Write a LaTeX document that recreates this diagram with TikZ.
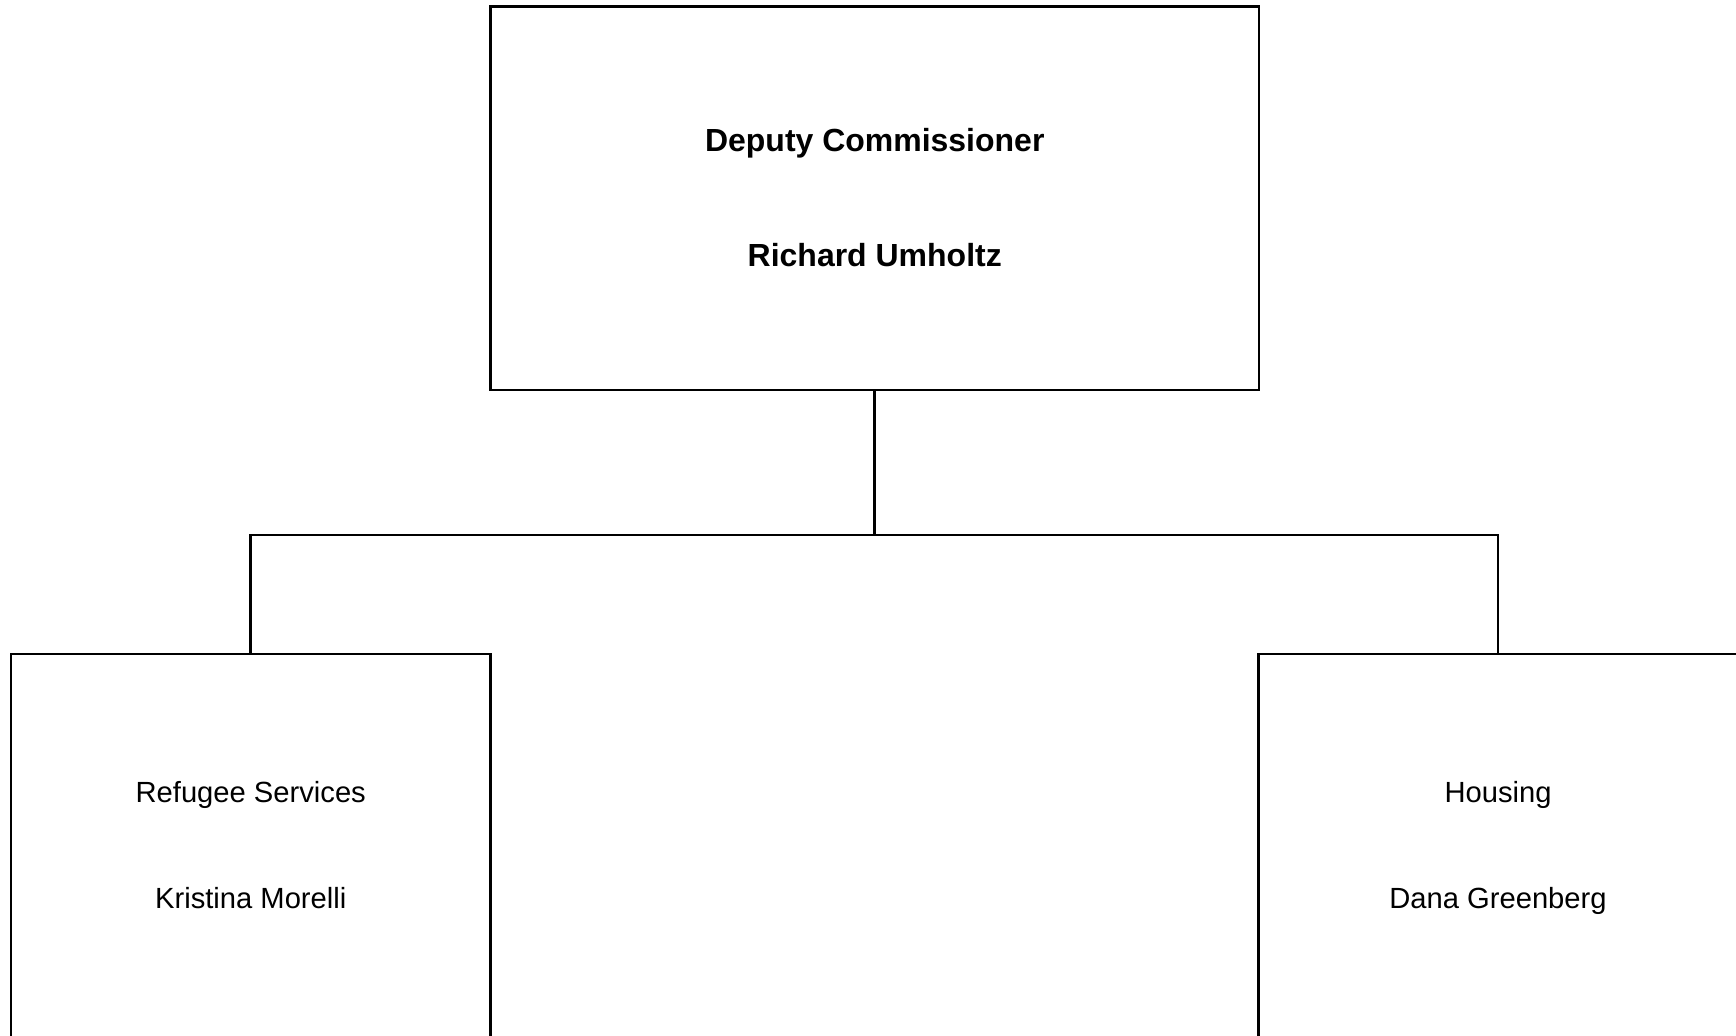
\documentclass[tikz,border=0pt]{standalone}
\usepackage{fontspec}
\setmainfont{Liberation Sans}
\begin{document}
\begin{tikzpicture}[box/.style={draw, line width=0.75pt, inner sep=0pt, outer sep=0pt},
  head/.style={font=\fontsize{9.1}{11}\selectfont\bfseries, anchor=base},
  unit/.style={font=\fontsize{8.3}{10}\selectfont, anchor=base}]
\useasboundingbox (0,0) rectangle (17.36,10.35);

\node[box, minimum width=7.685cm, minimum height=3.834cm] (1) at (8.7475,8.367) {};
\node[box, minimum width=4.795cm, minimum height=3.9cm] (2) at (2.5075,1.86) {};
\node[box, minimum width=4.795cm, minimum height=3.9cm] (3) at (14.98,1.86) {};

\node[head] (1a) at (8.7475,8.84) {Deputy Commissioner};
\node[head] (1b) at (8.7475,7.69) {Richard Umholtz};
\node[unit] (2a) at (2.5075,2.325) {Refugee Services};
\node[unit] (2b) at (2.5075,1.265) {Kristina Morelli};
\node[unit] (3a) at (14.98,2.325) {Housing};
\node[unit] (3b) at (14.98,1.265) {Dana Greenberg};

\coordinate (j) at (8.7475,5.0);
\path[draw, line width=0.75pt] (1.south) -- (j);
\path[draw, line width=0.75pt] (2.north) |- (j) -| (3.north);
\end{tikzpicture}
\end{document}
